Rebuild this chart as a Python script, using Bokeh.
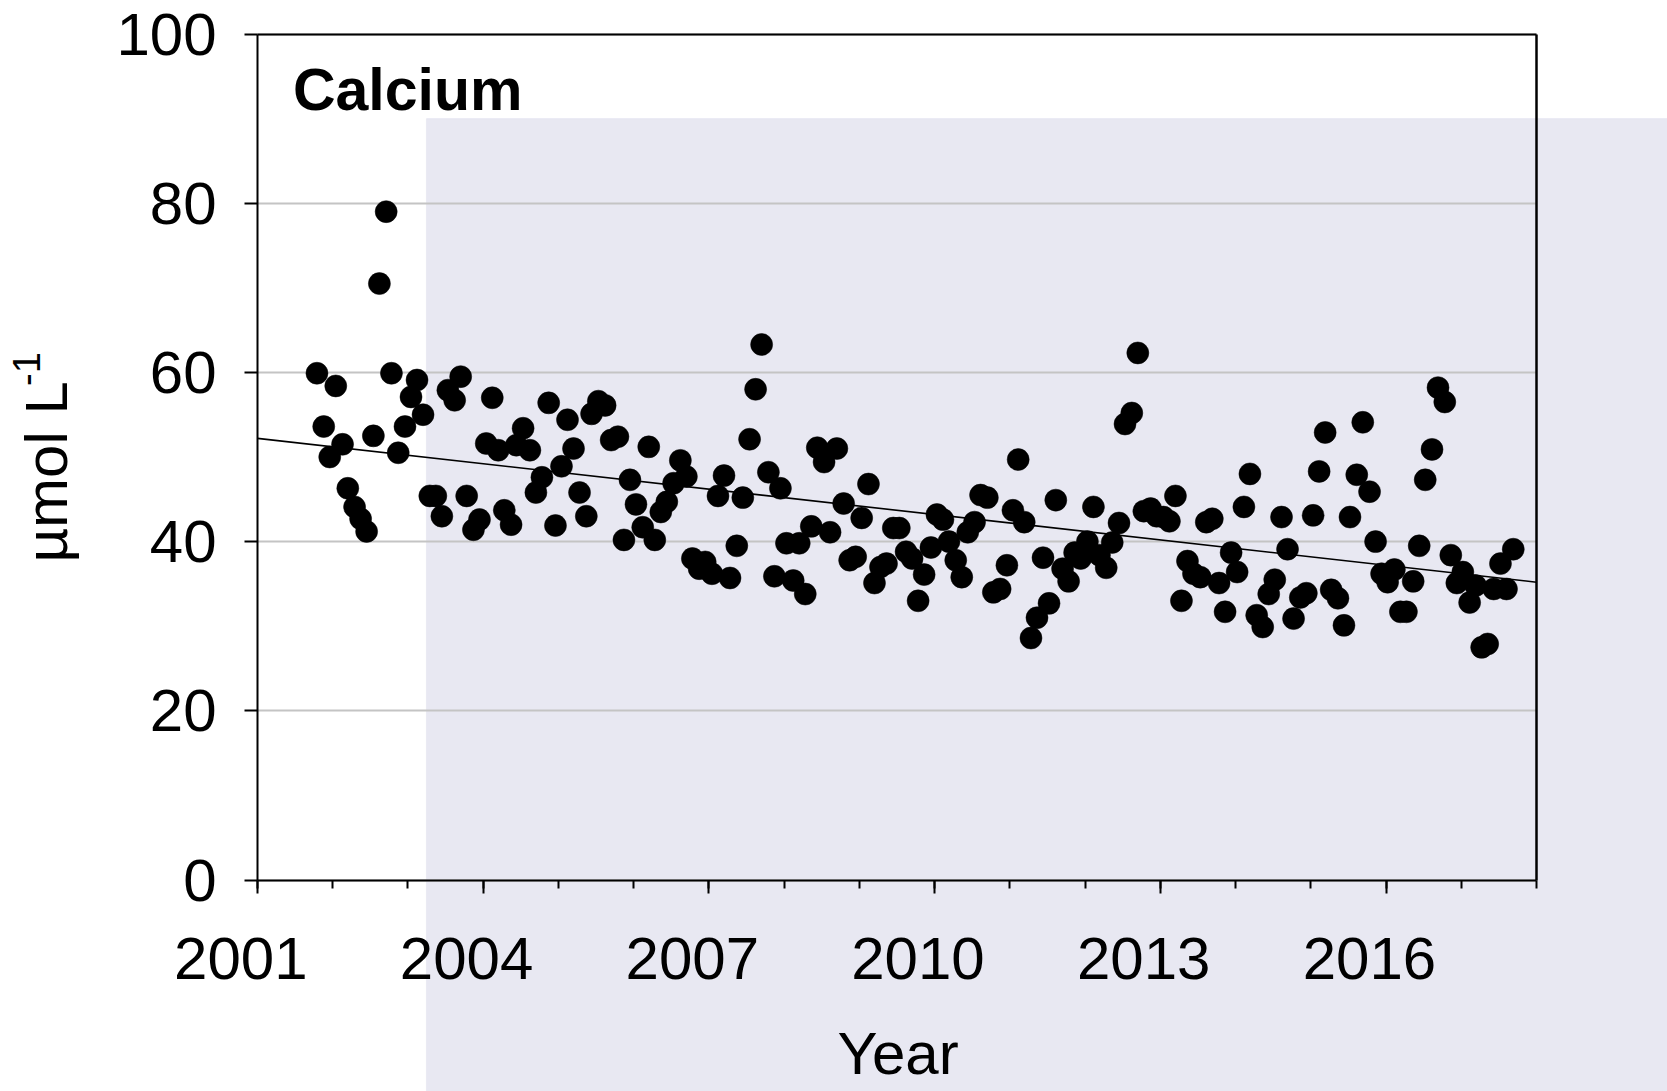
import math
from bokeh.plotting import figure
from bokeh.models import (LinearAxis, FixedTicker, Grid, BoxAnnotation, Label,
                          Range1d, ColumnDataSource)
from bokeh.embed import file_html
from bokeh.resources import INLINE

# ---------------- data ----------------
years = [
    2001.79, 2001.88, 2001.96, 2002.04, 2002.13, 2002.20, 2002.29, 2002.37, 2002.45, 2002.54,
    2002.62, 2002.71, 2002.78, 2002.87, 2002.96, 2003.04, 2003.12, 2003.20, 2003.29, 2003.37,
    2003.45, 2003.53, 2003.62, 2003.70, 2003.78, 2003.87, 2003.95, 2004.04, 2004.12, 2004.20,
    2004.28, 2004.37, 2004.44, 2004.53, 2004.62, 2004.70, 2004.78, 2004.87, 2004.96, 2005.04,
    2005.12, 2005.20, 2005.28, 2005.37, 2005.44, 2005.53, 2005.62, 2005.70, 2005.79, 2005.87,
    2005.95, 2006.03, 2006.12, 2006.20, 2006.28, 2006.36, 2006.44, 2006.53, 2006.62, 2006.70,
    2006.78, 2006.87, 2006.95, 2007.04, 2007.12, 2007.20, 2007.28, 2007.37, 2007.45, 2007.54,
    2007.62, 2007.70, 2007.79, 2007.87, 2007.95, 2008.03, 2008.12, 2008.20, 2008.28, 2008.36,
    2008.44, 2008.53, 2008.61, 2008.70, 2008.79, 2008.87, 2008.95, 2009.03, 2009.12, 2009.20,
    2009.28, 2009.36, 2009.45, 2009.53, 2009.62, 2009.70, 2009.78, 2009.86, 2009.95, 2010.03,
    2010.11, 2010.19, 2010.28, 2010.36, 2010.44, 2010.53, 2010.61, 2010.70, 2010.78, 2010.87,
    2010.96, 2011.04, 2011.11, 2011.19, 2011.28, 2011.36, 2011.44, 2011.52, 2011.61, 2011.70,
    2011.78, 2011.86, 2011.94, 2012.03, 2012.11, 2012.19, 2012.28, 2012.36, 2012.45, 2012.53,
    2012.62, 2012.70, 2012.78, 2012.87, 2012.95, 2013.04, 2013.12, 2013.20, 2013.28, 2013.36,
    2013.44, 2013.53, 2013.61, 2013.69, 2013.78, 2013.86, 2013.94, 2014.02, 2014.11, 2014.19,
    2014.28, 2014.36, 2014.44, 2014.52, 2014.61, 2014.69, 2014.77, 2014.86, 2014.94, 2015.03,
    2015.11, 2015.19, 2015.27, 2015.36, 2015.44, 2015.52, 2015.61, 2015.69, 2015.78, 2015.86,
    2015.94, 2016.02, 2016.11, 2016.19, 2016.27, 2016.36, 2016.44, 2016.52, 2016.61, 2016.69,
    2016.78, 2016.86, 2016.94, 2017.02, 2017.11, 2017.19, 2017.27, 2017.35, 2017.43, 2017.52,
    2017.60, 2017.69,
]
calcium = [
    59.9, 53.6, 50.0, 58.4, 51.5, 46.3, 44.1, 42.7, 41.2, 52.5,
    70.5, 79.0, 59.9, 50.5, 53.6, 57.1, 59.1, 55.0, 45.4, 45.4,
    43.0, 57.9, 56.7, 59.5, 45.4, 41.4, 42.6, 51.6, 57.0, 50.8,
    43.7, 42.0, 51.4, 53.4, 50.8, 45.8, 47.6, 56.4, 41.9, 48.9,
    54.4, 51.0, 45.8, 43.0, 55.1, 56.6, 56.1, 52.0, 52.4, 40.2,
    47.3, 44.4, 41.7, 51.2, 40.2, 43.5, 44.7, 46.9, 49.6, 47.7,
    38.0, 36.8, 37.6, 36.2, 45.4, 47.8, 35.7, 39.5, 45.2, 52.1,
    58.0, 63.3, 48.2, 35.9, 46.3, 39.8, 35.4, 39.8, 33.8, 41.8,
    51.1, 49.4, 41.1, 51.0, 44.5, 37.8, 38.2, 42.8, 46.8, 35.1,
    37.0, 37.4, 41.6, 41.6, 38.8, 38.0, 33.0, 36.1, 39.3, 43.2,
    42.6, 40.0, 37.8, 35.8, 41.1, 42.3, 45.5, 45.2, 34.0, 34.4,
    37.2, 43.7, 49.7, 42.3, 28.6, 31.0, 38.1, 32.7, 44.9, 36.8,
    35.3, 38.7, 38.0, 40.0, 44.1, 38.4, 36.9, 39.9, 42.2, 53.9,
    55.2, 62.3, 43.6, 43.9, 43.0, 42.9, 42.4, 45.4, 33.0, 37.7,
    36.2, 35.8, 42.3, 42.7, 35.1, 31.7, 38.7, 36.4, 44.1, 48.0,
    31.3, 29.9, 33.8, 35.5, 42.9, 39.1, 30.9, 33.4, 33.9, 43.1,
    48.3, 52.9, 34.3, 33.3, 30.1, 42.9, 47.9, 54.1, 45.9, 40.0,
    36.2, 35.2, 36.7, 31.7, 31.7, 35.3, 39.5, 47.3, 50.9, 58.2,
    56.5, 38.4, 35.1, 36.4, 32.8, 34.8, 27.5, 27.9, 34.4, 37.4,
    34.4, 39.1,
]
trend_years = [2001, 2018]
trend_calcium = [52.2, 35.2]

x_major_ticks = [2001, 2004, 2007, 2010, 2013, 2016]
x_minor_ticks = list(range(2001, 2019))
y_ticks = [0, 20, 40, 60, 80, 100]
x_tick_labels = {t: str(t) + "\u00a0\u00a0" for t in x_major_ticks}

title_text = "Calcium"
x_label_text = "Year"
y_label_text = "\u00b5mol L"
y_label_sup = "-1"

# ---------------- figure ----------------
W, H = 1667, 1091
FONT = "Liberation Sans"
X0, X1 = 2001, 2018

p = figure(width=W, height=H, output_backend="svg", toolbar_location=None,
           x_range=Range1d(1997.584, 2019.740), y_range=Range1d(-25.0, 103.96),
           x_axis_type=None, y_axis_type=None, min_border=0,
           outline_line_color=None, background_fill_color="white",
           border_fill_color="white")

# lavender background panel
shade = BoxAnnotation(left=2003.245, top=90.0, fill_color="#e8e8f2", fill_alpha=1.0,
                      line_color="#d8d8ea", line_width=1, level="underlay")
p.add_layout(shade)

# horizontal gridlines, limited to the axis span
try:
    grid = Grid(dimension=1, ticker=FixedTicker(ticks=y_ticks), cross_bounds=(X0, X1),
                grid_line_color="#c4c4c4", grid_line_width=2, level="underlay")
    p.add_layout(grid)
except Exception:
    p.segment(x0=[X0] * len(y_ticks), x1=[X1] * len(y_ticks), y0=y_ticks, y1=y_ticks,
              line_color="#c4c4c4", line_width=2, level="underlay")

# axes (fixed in data space)
xaxis = LinearAxis(fixed_location=0, bounds=(X0, X1),
                   ticker=FixedTicker(ticks=x_major_ticks, minor_ticks=x_minor_ticks),
                   major_label_overrides=x_tick_labels,
                   axis_line_color="black", axis_line_width=2,
                   major_tick_line_color="black", major_tick_line_width=2,
                   major_tick_in=0, major_tick_out=13,
                   minor_tick_line_color="black", minor_tick_line_width=2,
                   minor_tick_in=0, minor_tick_out=8,
                   major_label_text_font=FONT, major_label_text_font_size="60px",
                   major_label_text_color="black", major_label_standoff=32)
p.add_layout(xaxis, "below")

yaxis = LinearAxis(fixed_location=X0, bounds=(0, 100),
                   ticker=FixedTicker(ticks=y_ticks, minor_ticks=[]),
                   axis_line_color="black", axis_line_width=2,
                   major_tick_line_color="black", major_tick_line_width=2,
                   major_tick_in=0, major_tick_out=13,
                   minor_tick_line_color=None,
                   major_label_text_font=FONT, major_label_text_font_size="60px",
                   major_label_text_color="black", major_label_standoff=28)
p.add_layout(yaxis, "left")

topaxis = LinearAxis(fixed_location=100, bounds=(X0, X1),
                     ticker=FixedTicker(ticks=[], minor_ticks=[]),
                     axis_line_color="black", axis_line_width=2,
                     major_tick_line_color=None, minor_tick_line_color=None,
                     major_label_text_font_size="0px")
p.add_layout(topaxis, "above")

rightaxis = LinearAxis(fixed_location=X1, bounds=(0, 100),
                       ticker=FixedTicker(ticks=[], minor_ticks=[]),
                       axis_line_color="black", axis_line_width=2.5,
                       major_tick_line_color=None, minor_tick_line_color=None,
                       major_label_text_font_size="0px")
p.add_layout(rightaxis, "right")

# trend line and data
p.line(trend_years, trend_calcium, line_color="black", line_width=1.6)
src = ColumnDataSource(dict(x=years, y=calcium))
p.scatter("x", "y", source=src, size=22, fill_color="black", line_color="black",
          line_width=0.5)

# texts
p.add_layout(Label(x=2001.47, y=93.35, text=title_text, text_font=FONT,
                   text_font_size="59px", text_font_style="bold", text_color="black",
                   text_align="left", text_baseline="alphabetic"))
p.add_layout(Label(x=2009.513, y=-20.5, text=x_label_text, text_font=FONT,
                   text_font_size="60px", text_color="black",
                   text_align="center", text_baseline="alphabetic"))
p.add_layout(Label(x=1998.20, y=37.53, text=y_label_text, text_font=FONT,
                   text_font_size="60px", text_color="black", angle=math.pi / 2,
                   text_align="left", text_baseline="alphabetic"))
p.add_layout(Label(x=1997.93, y=58.4, text=y_label_sup, text_font=FONT,
                   text_font_size="38px", text_color="black", angle=math.pi / 2,
                   text_align="left", text_baseline="alphabetic"))

open("out.html", "w").write(file_html(p, INLINE))
